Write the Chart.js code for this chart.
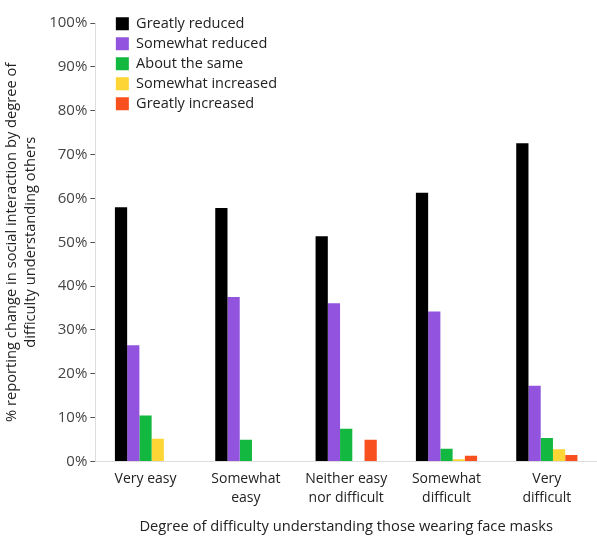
<!DOCTYPE html>
<html>
<head>
<meta charset="utf-8">
<script src="https://cdn.jsdelivr.net/npm/chart.js@4.4.1/dist/chart.umd.min.js"></script>
<style>
    html, body { margin: 0; padding: 0; background: #fff; }
    #wrap { width: 597px; height: 536px; position: relative; }
</style>
</head>
<body>
<div id="wrap"><canvas id="maskChart"></canvas></div>
<script>
// categories (x axis)
const categories = [
    'Very easy',
    ['Somewhat', 'easy'],
    ['Neither easy', 'nor difficult'],
    ['Somewhat', 'difficult'],
    ['Very', 'difficult']
];

// % reporting each change, per category
const greatlyReduced    = [58.0, 57.8, 51.4, 61.3, 72.6];
const somewhatReduced   = [26.5, 37.5, 36.1, 34.2, 17.3];
const aboutTheSame      = [10.5, 5.0, 7.5, 2.9, 5.4];
const somewhatIncreased = [5.2, 0, 0, 0.5, 2.8];
const greatlyIncreased  = [0, 0, 5.0, 1.3, 1.5];

const seriesNames = ['Greatly reduced', 'Somewhat reduced', 'About the same', 'Somewhat increased', 'Greatly increased'];
const seriesColors = ['#000000', '#9254de', '#12b83f', '#fdd535', '#f9501f'];

const FONT = '"Open Sans", "Noto Sans", sans-serif';

// nudge the legend inside the plot area (top-left corner)
const legendNudge = {
    id: 'legendNudge',
    afterLayout(chart) {
        const lg = chart.legend;
        if (!lg) return;
        lg.left += 15;
        lg.right += 15;
        lg.top += 11;
        lg.bottom += 11;
    }
};

function makeDataset(i, values) {
    return {
        label: seriesNames[i],
        data: values,
        backgroundColor: seriesColors[i],
        borderWidth: 0,
        categoryPercentage: 0.61,
        barPercentage: 1.0
    };
}

const ctx = document.getElementById('maskChart').getContext('2d');
const chart = new Chart(ctx, {
    type: 'bar',
    data: {
        labels: categories,
        datasets: [
            makeDataset(0, greatlyReduced),
            makeDataset(1, somewhatReduced),
            makeDataset(2, aboutTheSame),
            makeDataset(3, somewhatIncreased),
            makeDataset(4, greatlyIncreased)
        ]
    },
    options: {
        responsive: true,
        maintainAspectRatio: false,
        animation: false,
        layout: { padding: { top: 23, right: 0, bottom: 0, left: 2 } },
        plugins: {
            tooltip: { enabled: false },
            legend: {
                position: 'chartArea',
                align: 'start',
                labels: {
                    boxWidth: 13,
                    boxHeight: 13,
                    padding: 5.5,
                    color: '#222',
                    font: { family: FONT, size: 14.5 }
                }
            }
        },
        scales: {
            x: {
                grid: { display: false },
                border: { display: true, color: '#dddddd' },
                ticks: {
                    color: '#222',
                    padding: 0,
                    maxRotation: 0,
                    autoSkip: false,
                    font: { family: FONT, size: 14, lineHeight: 1.35 }
                },
                title: {
                    display: true,
                    text: 'Degree of difficulty understanding those wearing face masks',
                    color: '#222',
                    padding: { top: 11, bottom: 0 },
                    font: { family: FONT, size: 14.7 }
                }
            },
            y: {
                min: 0,
                max: 100,
                grid: {
                    drawOnChartArea: false,
                    tickLength: 5,
                    tickColor: '#555'
                },
                border: { display: true, color: '#dddddd' },
                ticks: {
                    stepSize: 10,
                    color: '#444',
                    padding: 3,
                    font: { family: FONT, size: 15 },
                    callback: v => v + '%'
                },
                title: {
                    display: true,
                    text: ['% reporting change in social interaction by degree of', 'difficulty understanding others'],
                    color: '#222',
                    padding: { top: 0, bottom: 6 },
                    font: { family: FONT, size: 14.7, lineHeight: 1.3 }
                }
            }
        }
    },
    plugins: [legendNudge]
});
</script>
</body>
</html>
